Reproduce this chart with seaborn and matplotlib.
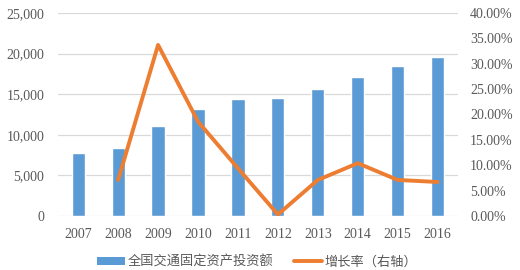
import numpy as np
import pandas as pd
import matplotlib
matplotlib.use("Agg")
import matplotlib.pyplot as plt
import seaborn as sns
from matplotlib.patches import Patch
from matplotlib.lines import Line2D
from matplotlib.ticker import FuncFormatter, MultipleLocator

years = ["2007", "2008", "2009", "2010", "2011", "2012", "2013", "2014", "2015", "2016"]
investment = [7780, 8350, 11100, 13200, 14450, 14550, 15650, 17150, 18450, 19600]
growth = [np.nan, 7.1, 33.7, 18.6, 9.4, 0.3, 7.1, 10.4, 7.1, 6.7]
bar_label = "全国交通固定资产投资额"
line_label = "增长率（右轴）"

sns.set_theme(style="white")
plt.rcParams['font.family'] = ['Liberation Serif', 'Noto Sans CJK SC', 'DejaVu Sans']

BLUE = "#5b9bd5"
ORANGE = "#ed7d31"
TXT = "#595959"
GRID = "#d9d9d9"

df = pd.DataFrame({"year": years, "investment": investment, "growth": growth})
df["pos"] = np.arange(len(years))

fig = plt.figure(figsize=(5.2, 2.7), dpi=100)
ax = fig.add_axes([0.112, 0.2, 0.768, 0.752])
sns.barplot(data=df, x="year", y="investment", color=BLUE, saturation=1,
            width=0.33, ax=ax, zorder=2)
ax.set_ylim(0, 25000)
ax.yaxis.set_major_locator(MultipleLocator(5000))
ax.yaxis.set_major_formatter(FuncFormatter(lambda v, p: f"{int(v):,}"))
ax.grid(axis="y", color=GRID, linewidth=0.9, zorder=0)
ax.set_axisbelow(True)
ax.set_xlabel("")
ax.set_ylabel("")
ax.set_xlim(-0.5, len(years) - 0.5)
for s in ax.spines.values():
    s.set_visible(False)
ax.tick_params(axis="both", length=0, colors=TXT)
ax.tick_params(axis="y", labelsize=10, pad=10)
ax.tick_params(axis="x", labelsize=10, pad=9)

ax2 = ax.twinx()
sns.lineplot(data=df, x="pos", y="growth", color=ORANGE, linewidth=2.8, ax=ax2, zorder=3)
ax2.set_ylim(0, 40)
ax2.yaxis.set_major_locator(MultipleLocator(5))
ax2.yaxis.set_major_formatter(FuncFormatter(lambda v, p: f"{v:.2f}%"))
ax2.set_xlim(-0.5, len(years) - 0.5)
ax2.set_xlabel("")
ax2.set_ylabel("")
for s in ax2.spines.values():
    s.set_visible(False)
ax2.tick_params(axis="y", length=0, colors=TXT, labelsize=10, pad=9)

handles = [Patch(facecolor=BLUE, edgecolor="none"),
           Line2D([0], [0], color=ORANGE, linewidth=2.8)]
fig.legend(handles, [bar_label, line_label], loc="center",
           bbox_to_anchor=(0.495, 0.03), ncol=2, frameon=False,
           prop={"family": ["Noto Sans CJK SC"], "size": 9.5},
           labelcolor=TXT, handlelength=2.1, handleheight=0.55,
           columnspacing=1.6, handletextpad=0.2, borderpad=0)

fig.savefig("out.png", dpi=100)
